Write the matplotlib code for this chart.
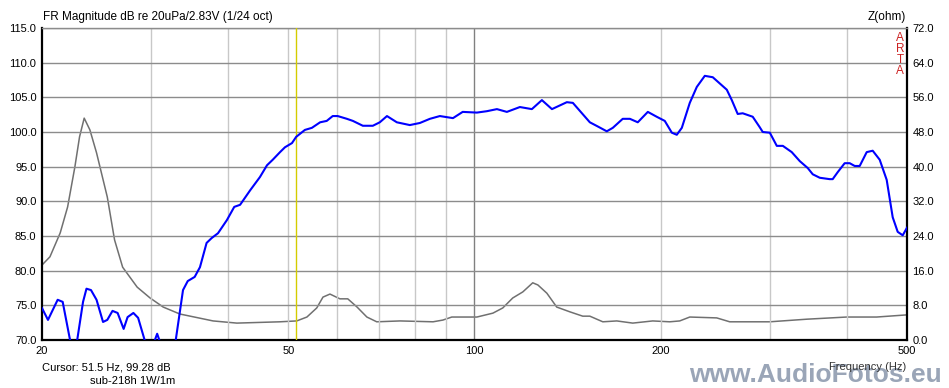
import matplotlib
matplotlib.use("Agg")
import matplotlib.pyplot as plt
import numpy as np

# FR magnitude (blue), Hz / dB
fr_freq = [20.0, 20.45, 21.2, 21.6, 22.2, 22.5, 22.8, 23.3, 23.6, 24.0, 24.5, 25.1,
           25.5, 26.0, 26.5, 27.1, 27.5, 28.1, 28.6, 29.3, 30.0, 30.5, 30.7, 31.0,
           31.6, 32.3, 32.9, 33.8, 34.4, 35.3, 36.0, 36.9, 37.6, 38.5, 39.8, 40.9,
           41.8, 43.4, 45.0, 46.2, 47.2, 48.5, 49.4, 50.7, 51.5, 53.2, 54.6, 56.3,
           57.7, 59.0, 60.1, 62.2, 63.6, 66.0, 68.5, 70.3, 72.2, 74.9, 78.6, 81.6,
           84.7, 87.9, 92.3, 95.7, 100.9, 104.7, 108.7, 112.8, 118.4, 123.8, 128.5,
           133.4, 141.0, 144.2, 153.6, 158.2, 163.6, 167.3, 173.6, 178.3, 183.6,
           190.6, 197.0, 203.0, 208.4, 212.3, 216.3, 222.8, 228.7, 235.6, 242.7,
           255.7, 260.5, 266.3, 271.3, 281.6, 289.0, 292.3, 300.1, 308.0, 315.0,
           325.6, 335.5, 345.6, 352.1, 361.4, 375.0, 379.2, 386.3, 396.5, 404.0,
           411.6, 419.3, 430.4, 440.1, 451.7, 463.6, 474.1, 483.0, 492.1, 500.0]
fr_db = [74.6, 72.9, 75.8, 75.5, 70.0, 67.5, 70.0, 75.5, 77.4, 77.2, 75.8, 72.6,
         72.9, 74.2, 73.9, 71.6, 73.3, 73.9, 73.2, 70.0, 68.0, 70.2, 70.9, 69.8,
         66.0, 66.5, 70.0, 77.2, 78.5, 79.1, 80.5, 84.0, 84.7, 85.4, 87.3, 89.2,
         89.5, 91.6, 93.5, 95.2, 96.0, 97.1, 97.8, 98.4, 99.3, 100.3, 100.6, 101.4,
         101.6, 102.3, 102.3, 101.9, 101.6, 100.9, 100.9, 101.4, 102.3, 101.4, 101.0, 101.3,
         101.9, 102.3, 102.0, 102.9, 102.8, 103.0, 103.3, 102.9, 103.6, 103.3, 104.6,
         103.3, 104.3, 104.2, 101.4, 100.8, 100.1, 100.6, 101.9, 101.9, 101.4,
         102.9, 102.2, 101.6, 99.9, 99.6, 100.6, 104.2, 106.5, 108.1, 107.9,
         106.1, 104.6, 102.6, 102.7, 102.2, 100.7, 100.0, 99.9, 98.0, 98.0,
         97.1, 95.8, 94.8, 93.9, 93.4, 93.2, 93.2, 94.2, 95.5, 95.5,
         95.1, 95.1, 97.1, 97.3, 96.0, 93.1, 87.7, 85.6, 85.1, 86.2]

# impedance (gray), Hz / ohm
z_freq = [20.0, 20.6, 21.4, 22.0, 22.6, 23.0, 23.4, 23.9, 24.5, 25.5, 26.2, 27.0,
          28.5, 29.9, 31.4, 33.4, 37.8, 41.3, 48.5, 51.6, 53.6, 55.6, 56.9, 58.4,
          60.6, 62.4, 64.6, 67.0, 69.5, 75.8, 85.7, 88.9, 91.9, 100.9, 107.1, 111.1,
          115.3, 119.7, 124.2, 126.6, 130.9, 135.8, 142.6, 149.6, 153.6, 161.2, 169.8,
          180.2, 194.1, 206.8, 214.6, 222.8, 246.3, 258.5, 300.1, 344.3, 399.5, 446.7, 500.0]
z_ohm = [17.3, 19.2, 24.7, 30.7, 39.9, 46.9, 51.2, 48.5, 43.2, 33.0, 23.1, 16.8,
         12.2, 9.7, 7.6, 6.0, 4.4, 3.9, 4.2, 4.4, 5.3, 7.4, 9.9, 10.6,
         9.5, 9.5, 7.6, 5.3, 4.2, 4.4, 4.2, 4.6, 5.3, 5.3, 6.2, 7.4,
         9.7, 11.1, 13.2, 12.7, 10.8, 7.6, 6.5, 5.5, 5.5, 4.2, 4.4,
         3.9, 4.4, 4.2, 4.4, 5.3, 5.1, 4.2, 4.2, 4.8, 5.3, 5.3, 5.8]

x_ticks = [20, 50, 100, 200, 500]
x_grid = [30, 40, 50, 60, 70, 80, 90, 100, 200, 300, 400]
db_ticks = np.arange(70, 115.1, 5)
z_ticks = np.arange(0, 72.1, 8)
cursor_hz = 51.5

plt.rcParams["font.family"] = ["Liberation Sans", "DejaVu Sans"]
plt.rcParams["font.size"] = 8

fig = plt.figure(figsize=(9.49, 3.88), dpi=100)
ax = fig.add_axes([42 / 949, 48 / 388, 865 / 949, 312 / 388])

ax.set_xscale("log")
ax.set_xlim(20, 500)
ax.set_ylim(70, 115)
ax.set_xticks(x_ticks)
ax.set_xticklabels([str(t) for t in x_ticks])
ax.xaxis.set_minor_locator(matplotlib.ticker.NullLocator())
ax.set_yticks(db_ticks)
ax.set_yticklabels(["%.1f" % v for v in db_ticks])
ax.tick_params(length=0, pad=4, labelsize=8, colors="black")
ax.grid(axis="y", color="#8c8c8c", lw=1)
for f in x_grid:
    ax.axvline(f, color="#808080" if f == 100 else "#c8c8c8", lw=1, zorder=0.5)
ax.set_axisbelow(True)

for side in ["left", "bottom", "right"]:
    ax.spines[side].set_linewidth(1.6)
    ax.spines[side].set_color("black")
ax.spines["top"].set_color("#8c8c8c")
ax.spines["top"].set_linewidth(1)

ax2 = ax.twinx()
ax2.set_ylim(0, 72)
ax2.set_yticks(z_ticks)
ax2.set_yticklabels(["%.1f" % v for v in z_ticks])
ax2.tick_params(length=0, pad=4, labelsize=8)
for side in ax2.spines:
    ax2.spines[side].set_visible(False)

ax2.plot(z_freq, z_ohm, color="#707070", lw=1.1)
ax.axvline(cursor_hz, color="#d4cc00", lw=1, zorder=3)
ax.plot(fr_freq, fr_db, color="#0000ff", lw=1.5, zorder=4)
ax.set_zorder(ax2.get_zorder() + 1)
ax.patch.set_visible(False)

fig.text(43 / 949, 1 - 20 / 388, "FR Magnitude dB re 20uPa/2.83V (1/24 oct)",
         ha="left", va="baseline", fontsize=8.5)
fig.text(906 / 949, 1 - 20 / 388, "Z(ohm)", ha="right", va="baseline", fontsize=8.5)
for i, ch in enumerate("ARTA"):
    fig.text(900 / 949, 1 - (38 + i * 11) / 388, ch, ha="center", va="center",
             color="#cc2222", fontsize=8.5)
fig.text(42 / 949, 1 - 370 / 388, "Cursor: 51.5 Hz, 99.28 dB", ha="left",
         va="baseline", fontsize=8)
fig.text(90 / 949, 1 - 384 / 388, "sub-218h 1W/1m", ha="left", va="baseline",
         fontsize=8)

# watermark
fig.text(942 / 949, 1 / 388, "www.AudioFotos.eu", ha="right", va="bottom",
         fontsize=19, fontweight="bold", color="#8896ab", alpha=0.85)
fig.text(906 / 949, 1 - 370 / 388, "Frequency (Hz)", ha="right", va="baseline",
         fontsize=8, color="#333333")

fig.savefig("out.png", dpi=100)
